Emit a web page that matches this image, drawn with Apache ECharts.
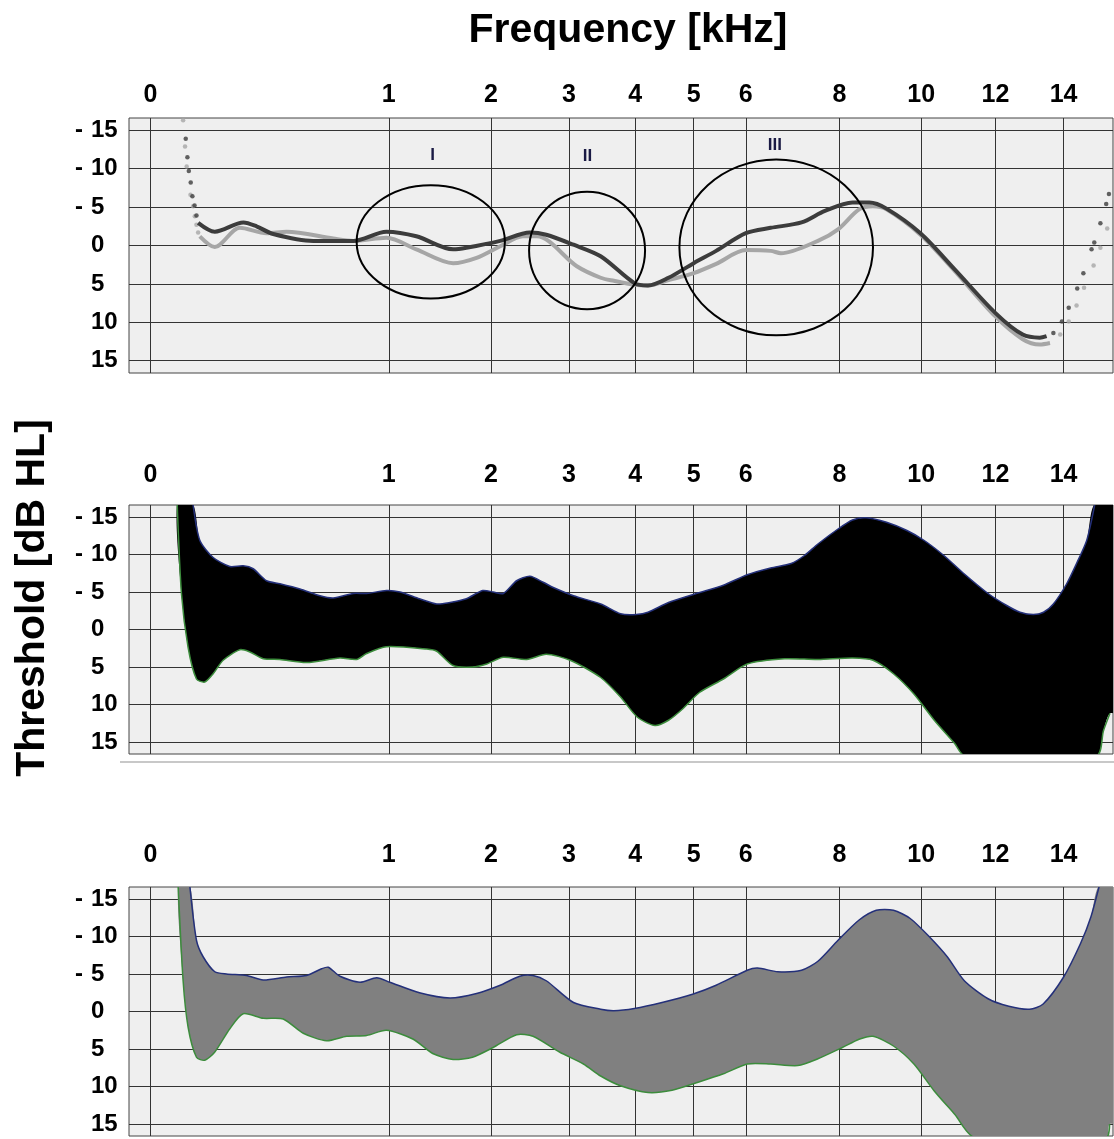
<!DOCTYPE html>
<html>
<head>
<meta charset="utf-8">
<script src="https://cdn.jsdelivr.net/npm/echarts@6/dist/echarts.min.js"></script>
<style>
  html, body { margin: 0; padding: 0; background: #fff; }
  #chart { width: 1114px; height: 1139px; }
</style>
</head>
<body>
<div id="chart"></div>
<script>
// frequency axis is not linear: kHz tick -> position on the (warped) axis
let scaleKHz = [0, 1, 2, 3, 4, 5, 6, 8, 10, 12, 14];
let scalePos = [0, 238.3, 340.3, 418.3, 484.5, 543.1, 595.2, 688.8, 770.6, 844.8, 912.9];
let xRangeKHz = [-0.09, 15.45];
let dbTicks = [-15, -10, -5, 0, 5, 10, 15];
let dbRange = [-16.6, 16.6];

// panel 1: two threshold curves [kHz, dB HL]
let darkStart = [[0.148, -13.9], [0.155, -11.5], [0.161, -9.7], [0.169, -8.2], [0.176, -6.4], [0.185, -5.2], [0.193, -3.9]];
let darkMain = [[0.20, -2.95], [0.27, -1.8], [0.39, -3.0], [0.445, -2.5], [0.515, -1.5], [0.683, -0.6], [0.851, -0.6],
    [0.99, -1.8], [1.27, -1.2], [1.63, 0.5], [1.76, 0.3], [2.12, -0.6], [2.5, -1.7], [2.71, -1.4], [3.07, -0.1],
    [3.48, 1.4], [3.99, 4.9], [4.22, 5.2], [4.57, 4.2], [5.0, 2.3], [5.43, 0.7], [6.0, -1.6], [6.53, -2.3],
    [7.19, -3.0], [7.69, -4.5], [8.32, -5.6], [8.73, -5.6], [9.15, -4.8], [9.98, -1.6], [10.9, 3.1], [12.0, 8.8],
    [12.8, 11.6], [13.3, 12.0], [13.5, 11.8]];
let darkEnd = [[13.7, 11.4], [13.95, 9.9], [14.15, 8.1], [14.4, 5.6], [14.58, 3.6], [14.82, 0.5], [14.9, -0.4],
    [15.08, -2.9], [15.25, -5.4], [15.33, -6.7]];
let lightStart = [[0.137, -16.3], [0.145, -12.9], [0.152, -10.3], [0.168, -6.6], [0.179, -5.1], [0.186, -3.8], [0.193, -2.7], [0.2, -1.7]];
let lightMain = [[0.207, -1.2], [0.27, 0.2], [0.375, -2.3], [0.487, -1.6], [0.571, -1.8], [0.767, -0.9], [0.851, -0.6],
    [0.99, -1.0], [1.27, 0.5], [1.63, 2.3], [1.86, 1.6], [2.12, 0.1], [2.41, -1.2], [2.59, -1.2], [3.12, 2.7],
    [3.48, 4.2], [3.68, 4.6], [3.99, 5.1], [4.22, 5.2], [4.57, 4.5], [5.0, 3.6], [5.43, 2.4], [6.0, 0.6], [6.53, 0.7],
    [6.75, 1.0], [7.54, -0.6], [7.97, -2.1], [8.48, -4.7], [8.82, -5.1], [9.15, -4.7], [9.98, -1.4], [10.9, 3.3],
    [11.99, 9.2], [12.8, 12.2], [13.3, 12.9], [13.6, 12.7]];
let lightEnd = [[13.9, 11.6], [14.15, 9.9], [14.38, 7.8], [14.6, 5.5], [14.88, 2.6], [15.08, 0.3], [15.28, -2.2]];

// circled regions in panel 1
let circleNames = ['I', 'II', 'III'];
let circleLeftKHz = [0.865, 2.49, 4.756];
let circleRightKHz = [2.18, 4.17, 8.82];
let circleTopDb = [-7.85, -7.0, -11.2];
let circleBottomDb = [6.9, 8.3, 11.7];
let circleLabelKHz = [1.43, 3.28, 6.62];
let circleLabelDb = [-11.7, -11.6, -13.0];

// panel 2: black range band
let band2Upper = [[0.179, -16.6], [0.207, -11.9], [0.263, -9.6], [0.333, -8.4], [0.389, -8.5], [0.431, -8.1],
    [0.487, -6.5], [0.543, -6.1], [0.627, -5.4], [0.711, -4.5], [0.767, -4.2], [0.851, -4.8], [0.907, -4.8],
    [0.99, -5.2], [1.11, -5.0], [1.3, -4.1], [1.47, -3.4], [1.6, -3.6], [1.76, -4.1], [1.92, -5.2], [2.03, -5.0],
    [2.16, -4.8], [2.33, -6.5], [2.5, -7.1], [2.67, -6.3], [2.8, -5.6], [3.07, -4.5], [3.48, -3.4], [3.78, -2.1],
    [4.02, -2.0], [4.22, -2.3], [4.57, -3.6], [5.05, -4.8], [5.57, -5.9], [6.03, -7.3], [6.53, -8.2], [6.97, -8.8],
    [7.26, -9.9], [7.54, -11.4], [7.97, -13.4], [8.32, -14.6], [8.65, -14.9], [9.15, -14.3], [9.65, -13.2],
    [10.07, -11.9], [10.6, -9.9], [11.16, -7.4], [11.8, -4.8], [12.33, -3.2], [12.72, -2.3], [13.11, -2.0],
    [13.41, -2.3], [13.7, -3.4], [14.09, -6.1], [14.38, -8.8], [14.68, -11.9], [14.92, -16.8]];
let band2Lower = [[0.112, -16.8], [0.13, -4.8], [0.158, 2.4], [0.193, 6.6], [0.228, 7.0], [0.263, 5.9], [0.305, 4.1],
    [0.375, 2.7], [0.417, 3.0], [0.473, 3.9], [0.543, 4.0], [0.655, 4.4], [0.795, 3.8], [0.865, 4.0], [0.907, 3.2],
    [0.99, 2.3], [1.37, 2.6], [1.47, 2.9], [1.63, 4.8], [1.82, 5.0], [1.96, 4.6], [2.16, 3.7], [2.46, 4.0],
    [2.71, 3.3], [3.02, 4.1], [3.48, 6.4], [3.78, 9.0], [4.04, 11.7], [4.34, 12.8], [4.57, 12.1], [4.81, 10.6],
    [5.11, 8.4], [5.57, 6.6], [6.03, 4.6], [6.83, 3.9], [7.54, 4.0], [8.32, 3.8], [8.82, 4.1], [9.32, 5.9],
    [9.82, 8.6], [10.35, 12.1], [10.9, 15.2], [11.16, 16.8], [14.97, 16.8], [15.17, 13.5], [15.36, 11.2]];

// panel 3: grey range band
let band3Upper = [[0.165, -16.8], [0.193, -9.5], [0.221, -7.3], [0.27, -5.3], [0.319, -5.0], [0.403, -4.8],
    [0.473, -4.2], [0.571, -4.6], [0.655, -4.8], [0.718, -5.7], [0.746, -5.9], [0.795, -4.7], [0.879, -3.9],
    [0.949, -4.5], [1.01, -3.9], [1.3, -2.5], [1.6, -1.8], [1.86, -2.4], [2.12, -3.5], [2.37, -4.7], [2.54, -4.8],
    [2.71, -4.1], [3.07, -1.2], [3.48, -0.3], [3.68, -0.1], [3.99, -0.4], [4.46, -1.2], [4.98, -2.3], [5.43, -3.5],
    [6.03, -5.5], [6.25, -5.8], [6.68, -5.3], [7.19, -5.5], [7.54, -6.7], [7.97, -9.5], [8.48, -12.2], [8.9, -13.5],
    [9.32, -13.5], [9.73, -12.4], [10.23, -9.9], [10.7, -7.3], [11.16, -4.1], [11.8, -1.7], [12.39, -0.7],
    [13.0, -0.3], [13.4, -1.0], [14.0, -4.6], [14.5, -9.1], [14.8, -12.6], [15.05, -16.8]];
let band3Lower = [[0.116, -16.8], [0.137, -4.1], [0.158, 2.1], [0.193, 6.1], [0.228, 6.5], [0.27, 5.4], [0.333, 2.3],
    [0.389, 0.3], [0.473, 0.9], [0.557, 1.0], [0.641, 2.9], [0.739, 3.9], [0.823, 3.3], [0.907, 3.2], [0.99, 2.5],
    [1.24, 3.7], [1.43, 5.6], [1.63, 6.4], [1.82, 6.1], [2.03, 4.8], [2.33, 3.1], [2.54, 3.3], [2.88, 5.4],
    [3.22, 7.0], [3.48, 8.6], [3.78, 9.9], [4.22, 10.8], [4.63, 10.5], [5.05, 9.5], [5.57, 8.3], [6.03, 7.0],
    [6.53, 7.0], [7.11, 7.2], [7.54, 6.3], [8.07, 4.8], [8.48, 3.7], [8.82, 3.3], [9.32, 4.6], [9.82, 7.0],
    [10.35, 10.6], [10.9, 13.7], [11.44, 16.8], [15.25, 16.8], [15.35, 15.0]];

const FONT = '"Liberation Sans", Arial, sans-serif';

// kHz -> warped axis position (piecewise linear between ticks)
function warp(k) {
    let i = 1;
    while (i < scaleKHz.length - 1 && k > scaleKHz[i]) i++;
    const k0 = scaleKHz[i - 1], k1 = scaleKHz[i];
    const p0 = scalePos[i - 1], p1 = scalePos[i];
    return p0 + (k - k0) * (p1 - p0) / (k1 - k0);
}
function toXY(arr) {
    return arr.map(p => [warp(p[0]), p[1]]);
}

let grids = [
    {top: 118, height: 255},
    {top: 505, height: 249},
    {top: 887, height: 249}
];
let labelMargins = [10, 17, 19];

let gridOpts = [], xAxes = [], yAxes = [];
for (let i = 0; i < grids.length; i++) {
    gridOpts.push({
        left: 129, right: 1, top: grids[i].top, height: grids[i].height,
        show: true, backgroundColor: '#efefef', borderColor: '#444', borderWidth: 1
    });
    xAxes.push({
        type: 'value', gridIndex: i, position: 'top',
        min: warp(xRangeKHz[0]), max: warp(xRangeKHz[1]),
        axisLine: {show: false},
        axisTick: {show: true, length: 7, customValues: scalePos, lineStyle: {color: '#333', width: 1}},
        splitLine: {show: true, lineStyle: {color: '#333', width: 1}},
        axisLabel: {
            customValues: scalePos, margin: labelMargins[i],
            color: '#000', fontSize: 25, fontWeight: 'bold', fontFamily: FONT,
            formatter: function (v) {
                let idx = scalePos.findIndex(p => Math.abs(p - v) < 0.01);
                return idx >= 0 ? String(scaleKHz[idx]) : '';
            }
        }
    });
    yAxes.push({
        type: 'value', gridIndex: i, inverse: true,
        min: dbRange[0], max: dbRange[1],
        axisLine: {show: false},
        axisTick: {show: true, length: 7, customValues: dbTicks, lineStyle: {color: '#333', width: 1}},
        splitLine: {show: true, lineStyle: {color: '#333', width: 1}},
        axisLabel: {
            customValues: dbTicks, margin: 54, align: 'left',
            formatter: function (v) {
                return v < 0 ? '{m|-}{n|' + (-v) + '}' : '{m| }{n|' + v + '}';
            },
            rich: {
                m: {width: 16, color: '#000', fontSize: 24, fontWeight: 'bold', fontFamily: FONT},
                n: {color: '#000', fontSize: 24, fontWeight: 'bold', fontFamily: FONT}
            }
        }
    });
}

function curve(data, color, z) {
    return {
        type: 'line', xAxisIndex: 0, yAxisIndex: 0, data: toXY(data), z: z,
        showSymbol: false, smooth: 0.3, lineStyle: {color: color, width: 4}
    };
}
function dots(data, color, z) {
    return {
        type: 'scatter', xAxisIndex: 0, yAxisIndex: 0, data: toXY(data), z: z,
        symbolSize: 4.5, itemStyle: {color: color}
    };
}
function band(idx, upper, lower, fill) {
    return {
        type: 'custom', xAxisIndex: idx, yAxisIndex: idx, clip: true, data: [[0, 0]],
        renderItem: function (params, api) {
            const up = upper.map(p => api.coord([warp(p[0]), p[1]]));
            const lo = lower.map(p => api.coord([warp(p[0]), p[1]]));
            const cs = params.coordSys;
            const xr = cs.x + cs.width + 12;
            const poly = up.concat([[xr, up[up.length - 1][1]], [xr, lo[lo.length - 1][1]]], lo.slice().reverse());
            return {
                type: 'group',
                children: [
                    {type: 'polygon', shape: {points: poly, smooth: 0.25}, style: {fill: fill}},
                    {type: 'polyline', shape: {points: up, smooth: 0.25}, style: {stroke: '#24307a', lineWidth: 1.5, fill: null}},
                    {type: 'polyline', shape: {points: lo, smooth: 0.25}, style: {stroke: '#3c8c3c', lineWidth: 1.5, fill: null}}
                ]
            };
        }
    };
}

let circleData = circleNames.map((n, i) => [warp(circleLeftKHz[i]), warp(circleRightKHz[i]), circleTopDb[i], circleBottomDb[i]]);
let circleLabelData = circleNames.map((n, i) => [warp(circleLabelKHz[i]), circleLabelDb[i], n]);

let option = {
    animation: false,
    backgroundColor: '#fff',
    grid: gridOpts,
    xAxis: xAxes,
    yAxis: yAxes,
    graphic: [
        {type: 'text', x: 628, y: 31, style: {text: 'Frequency [kHz]', font: 'bold 41px ' + FONT, fill: '#000', align: 'center', verticalAlign: 'middle'}},
        {type: 'text', x: 33, y: 598, rotation: Math.PI / 2, style: {text: 'Threshold [dB HL]', font: 'bold 41px ' + FONT, fill: '#000', align: 'center', verticalAlign: 'middle'}},
        {type: 'line', shape: {x1: 120, y1: 762, x2: 1114, y2: 762}, style: {stroke: '#c8c8c8', lineWidth: 2}}
    ],
    series: [
        curve(lightMain, '#a6a6a6', 3),
        dots(lightStart, '#a6a6a6', 3),
        dots(lightEnd, '#a6a6a6', 3),
        curve(darkMain, '#3c3c3c', 4),
        dots(darkStart, '#3c3c3c', 4),
        dots(darkEnd, '#3c3c3c', 4),
        {
            type: 'custom', xAxisIndex: 0, yAxisIndex: 0, data: circleData, z: 5,
            encode: {x: [0, 1], y: [2, 3]},
            renderItem: function (params, api) {
                const a = api.coord([api.value(0), api.value(2)]);
                const b = api.coord([api.value(1), api.value(3)]);
                return {
                    type: 'ellipse',
                    shape: {cx: (a[0] + b[0]) / 2, cy: (a[1] + b[1]) / 2, rx: Math.abs(b[0] - a[0]) / 2, ry: Math.abs(b[1] - a[1]) / 2},
                    style: {stroke: '#000', lineWidth: 2, fill: null}
                };
            }
        },
        {
            type: 'custom', xAxisIndex: 0, yAxisIndex: 0, data: circleLabelData, z: 5,
            encode: {x: 0, y: 1},
            renderItem: function (params, api) {
                const p = api.coord([api.value(0), api.value(1)]);
                return {
                    type: 'text', x: p[0], y: p[1],
                    style: {text: circleLabelData[params.dataIndex][2], font: 'bold 17px ' + FONT, fill: '#1a1a44', align: 'center', verticalAlign: 'middle'}
                };
            }
        },
        band(1, band2Upper, band2Lower, '#000'),
        band(2, band3Upper, band3Lower, '#808080')
    ]
};

let myChart = echarts.init(document.getElementById('chart'));
myChart.setOption(option);
</script>
</body>
</html>
